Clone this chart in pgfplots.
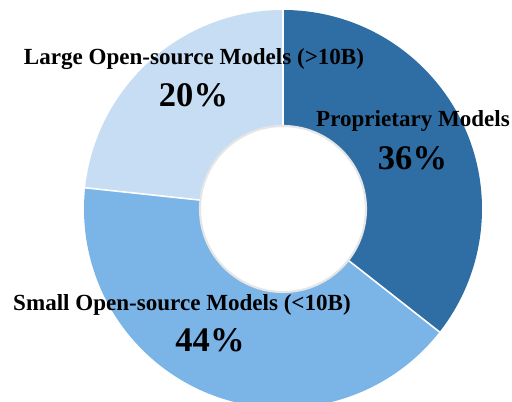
\documentclass[border=0pt]{standalone}
\usepackage{pgfplots}
\pgfplotsset{compat=1.18}
\usepackage{pgfplotstable}
\usepackage{fontspec}
\setmainfont{Liberation Serif}
\definecolor{cprop}{HTML}{2F6EA5}
\definecolor{csmall}{HTML}{7BB4E7}
\definecolor{clarge}{HTML}{C6DDF3}
\definecolor{cring}{HTML}{E6E6E6}
\pgfplotstableread{
name value
prop 35.6
small 41.1
large 23.3
}\slices
\begin{document}
\begin{tikzpicture}
\pgfplotstablegetelem{0}{value}\of\slices \let\va\pgfplotsretval
\pgfplotstablegetelem{1}{value}\of\slices \let\vb\pgfplotsretval
\pgfplotstablegetelem{2}{value}\of\slices \let\vc\pgfplotsretval
\pgfmathsetmacro\aA{90}
\pgfmathsetmacro\aB{90-3.6*\va}
\pgfmathsetmacro\aC{\aB-3.6*\vb}
\pgfmathsetmacro\aD{\aC-3.6*\vc}
\begin{axis}[
  x=0.75pt, y=0.75pt,
  xmin=0, xmax=512, ymin=0, ymax=402,
  hide axis,
]
\fill[cprop] (axis cs:283,193) -- +(\aA:149.25pt) arc[start angle=\aA, end angle=\aB, radius=149.25pt] -- cycle;
\fill[csmall] (axis cs:283,193) -- +(\aB:149.25pt) arc[start angle=\aB, end angle=\aC, radius=149.25pt] -- cycle;
\fill[clarge] (axis cs:283,193) -- +(\aC:149.25pt) arc[start angle=\aC, end angle=\aD, radius=149.25pt] -- cycle;
\draw[white, line width=1.2pt] (axis cs:283,193) -- +(\aA:150pt);
\draw[white, line width=1.2pt] (axis cs:283,193) -- +(\aB:150pt);
\draw[white, line width=1.2pt] (axis cs:283,193) -- +(\aC:150pt);
\fill[white, draw=cring, line width=1.6pt] (axis cs:283,193) circle[radius=62.25pt];
\node[anchor=base, font=\fontsize{17.3}{20}\selectfont\bfseries, inner sep=0pt] at (axis cs:194,337) {Large Open-source Models (>10B)};
\node[anchor=base, font=\fontsize{25.9}{30}\selectfont\bfseries, inner sep=0pt] at (axis cs:193.5,295.5) {20\%};
\node[anchor=base, font=\fontsize{17.3}{20}\selectfont\bfseries, inner sep=0pt] at (axis cs:413,275) {Proprietary Models};
\node[anchor=base, font=\fontsize{25.9}{30}\selectfont\bfseries, inner sep=0pt] at (axis cs:412.5,232) {36\%};
\node[anchor=base, font=\fontsize{17.3}{20}\selectfont\bfseries, inner sep=0pt] at (axis cs:182,91) {Small Open-source Models (<10B)};
\node[anchor=base, font=\fontsize{25.9}{30}\selectfont\bfseries, inner sep=0pt] at (axis cs:210,50.5) {44\%};
\end{axis}
\pgfresetboundingbox
\path (current axis.south west) rectangle (current axis.north east);
\end{tikzpicture}
\end{document}
